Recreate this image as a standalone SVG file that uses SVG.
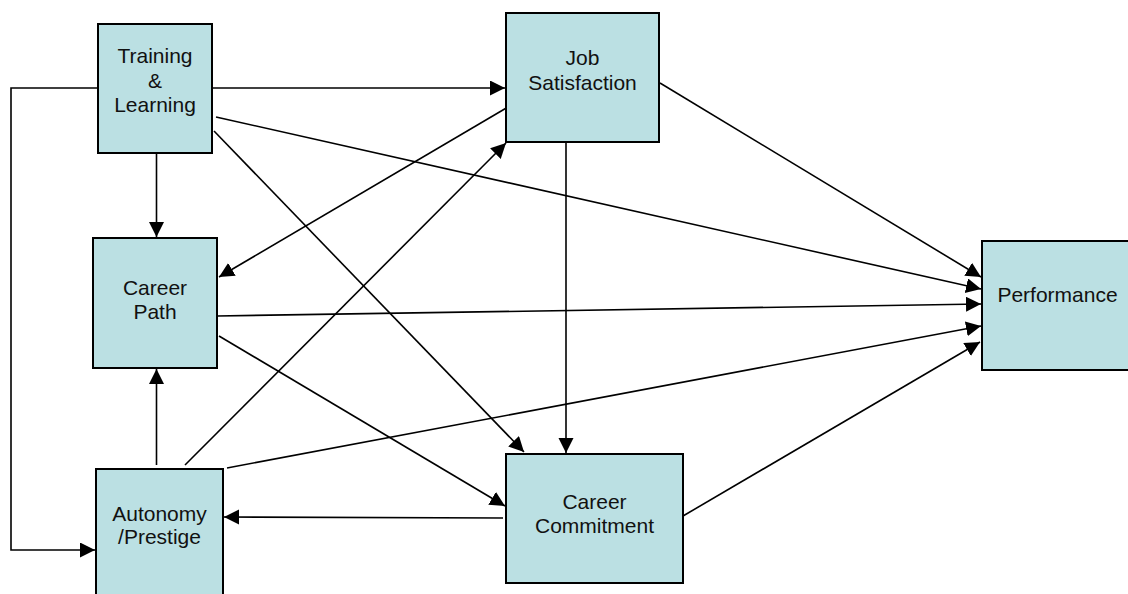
<svg xmlns="http://www.w3.org/2000/svg" width="1128" height="594" viewBox="0 0 1128 594">
<style>
.box{fill:#BBE0E3;stroke:#000;stroke-width:2}
.lbl{font-family:"Liberation Sans",Arial,sans-serif;font-size:21px;fill:#111;text-anchor:middle}
.c{fill:none;stroke:#000;stroke-width:1.6}
.a{marker-end:url(#ah)}
</style>
<defs>
<marker id="ah" markerUnits="userSpaceOnUse" markerWidth="17" markerHeight="17" refX="15" refY="7.5" orient="auto">
<path d="M0,0 L15,7.5 L0,15 z" fill="#000"/>
</marker>
</defs>
<rect width="1128" height="594" fill="#fff"/>
<g id="connectors">
<line class="c a" x1="212" y1="88" x2="505" y2="88"/>
<polyline class="c a" points="98,88 11,88 11,550 95,550"/>
<line class="c a" x1="156.5" y1="153" x2="156.5" y2="237"/>
<line class="c a" x1="216" y1="117" x2="981" y2="289"/>
<line class="c a" x1="214" y1="131" x2="524" y2="452"/>
<line class="c a" x1="508" y1="107" x2="219" y2="277"/>
<line class="c a" x1="185" y1="465" x2="506" y2="143"/>
<line class="c a" x1="660" y1="83" x2="981" y2="277"/>
<line class="c a" x1="566" y1="142" x2="566" y2="453"/>
<line class="c a" x1="217" y1="316" x2="981" y2="304"/>
<line class="c a" x1="219" y1="336" x2="505" y2="506"/>
<line class="c a" x1="156.5" y1="465" x2="156.5" y2="369"/>
<line class="c a" x1="227" y1="468" x2="981" y2="326"/>
<line class="c a" x1="503" y1="518" x2="224" y2="517"/>
<line class="c a" x1="683" y1="516" x2="980" y2="342"/>
</g>
<g id="training">
<rect class="box" x="98" y="24" width="114" height="129"/>
<text class="lbl" x="155" y="63">Training</text>
<text class="lbl" x="155" y="88">&amp;</text>
<text class="lbl" x="155" y="112">Learning</text>
</g>
<g id="job-satisfaction">
<rect class="box" x="506" y="13" width="153" height="129"/>
<text class="lbl" x="582.5" y="65">Job</text>
<text class="lbl" x="582.5" y="90">Satisfaction</text>
</g>
<g id="career-path">
<rect class="box" x="93" y="238" width="124" height="130"/>
<text class="lbl" x="155" y="295">Career</text>
<text class="lbl" x="155" y="319">Path</text>
</g>
<g id="autonomy">
<rect class="box" x="96" y="469" width="127" height="132"/>
<text class="lbl" x="159.5" y="521">Autonomy</text>
<text class="lbl" x="159.5" y="544">/Prestige</text>
</g>
<g id="career-commitment">
<rect class="box" x="506" y="454" width="177" height="129"/>
<text class="lbl" x="594.5" y="509">Career</text>
<text class="lbl" x="594.5" y="533">Commitment</text>
</g>
<g id="performance">
<rect class="box" x="982" y="241" width="151" height="129"/>
<text class="lbl" x="1057.5" y="302">Performance</text>
</g>
</svg>
